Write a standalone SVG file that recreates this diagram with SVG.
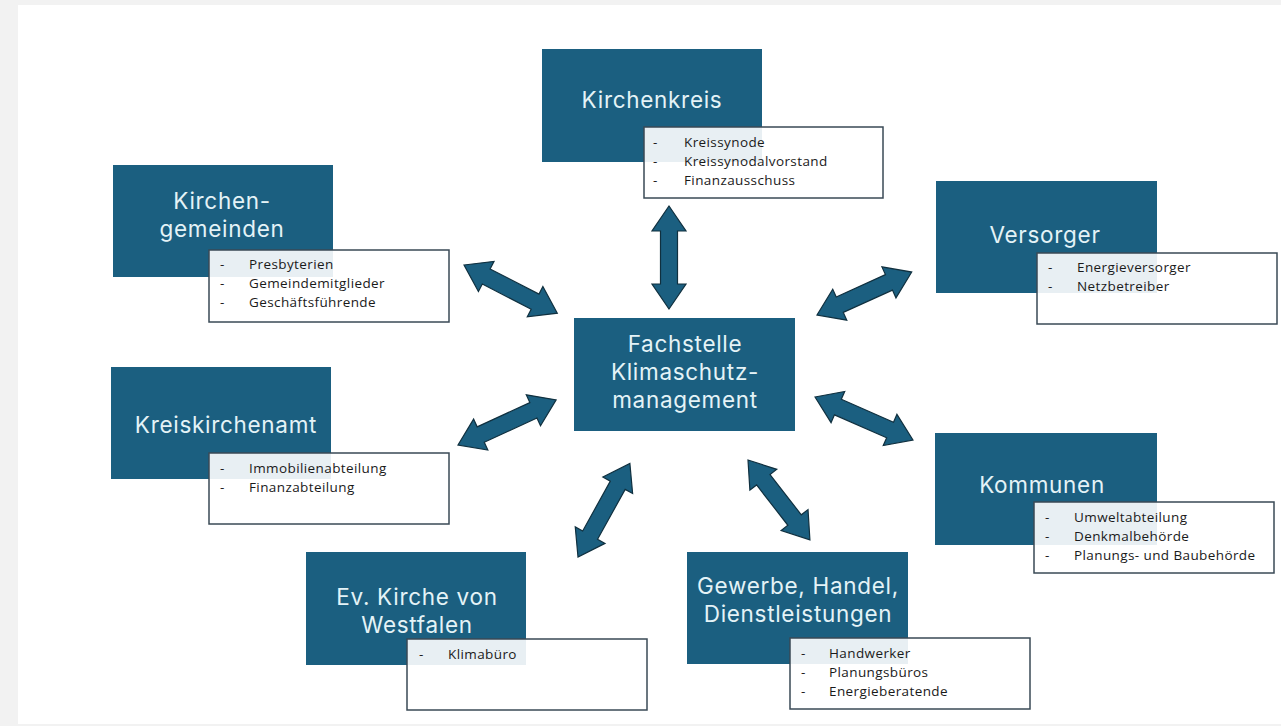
<svg xmlns="http://www.w3.org/2000/svg" width="1281" height="726" viewBox="0 0 1281 726">
<style>
.bg{fill:#f2f2f2}
.card{fill:#ffffff}
.box{fill:#1b5f80}
.sub{fill:#ffffff;fill-opacity:0.9;stroke:#3a4a56;stroke-width:1.5}
.title{font-family:Inter,"Open Sans","Liberation Sans",sans-serif;font-size:22.5px;fill:#e4f3f7;text-anchor:middle;letter-spacing:0.7px}
.item{font-family:"Open Sans","Liberation Sans",sans-serif;font-size:13.5px;fill:#1a1a1a;letter-spacing:0.4px}
.arrow{fill:#1b5f80;stroke:#10303f;stroke-width:1.2;stroke-linejoin:miter}
</style>
<rect class="bg" x="0" y="0" width="1281" height="726"/>
<rect class="card" x="18" y="5" width="1263" height="719"/>

<g id="connectors">
<path class="arrow" transform="translate(669,206) rotate(90)" d="M0,0 L25,-17 L25,-8.5 L78,-8.5 L78,-17 L103,0 L78,17 L78,8.5 L25,8.5 L25,17 Z"/>
<path class="arrow" transform="translate(464,265) rotate(27.3)" d="M0,0 L25,-17 L25,-8.5 L80,-8.5 L80,-17 L105,0 L80,17 L80,8.5 L25,8.5 L25,17 Z"/>
<path class="arrow" transform="translate(817,315) rotate(-24.4)" d="M0,0 L25,-17 L25,-8.5 L79,-8.5 L79,-17 L104,0 L79,17 L79,8.5 L25,8.5 L25,17 Z"/>
<path class="arrow" transform="translate(458,445) rotate(-24.7)" d="M0,0 L25,-17 L25,-8.5 L83,-8.5 L83,-17 L108,0 L83,17 L83,8.5 L25,8.5 L25,17 Z"/>
<path class="arrow" transform="translate(815,397) rotate(23.7)" d="M0,0 L25,-17 L25,-8.5 L82,-8.5 L82,-17 L107,0 L82,17 L82,8.5 L25,8.5 L25,17 Z"/>
<path class="arrow" transform="translate(578,557) rotate(-61)" d="M0,0 L25,-17 L25,-8.5 L82,-8.5 L82,-17 L107,0 L82,17 L82,8.5 L25,8.5 L25,17 Z"/>
<path class="arrow" transform="translate(748,460) rotate(52.2)" d="M0,0 L25,-17 L25,-8.5 L76,-8.5 L76,-17 L101,0 L76,17 L76,8.5 L25,8.5 L25,17 Z"/>
</g>

<g id="center">
<rect class="box" x="574" y="318" width="221" height="113"/>
<text class="title" x="685" y="352">Fachstelle</text>
<text class="title" x="685" y="380">Klimaschutz-</text>
<text class="title" x="685" y="408">management</text>
</g>

<g id="kirchenkreis">
<rect class="box" x="542" y="49" width="220" height="113"/>
<text class="title" x="652" y="108">Kirchenkreis</text>
<rect class="sub" x="644" y="127" width="239" height="71"/>
<text class="item" x="653" y="147">-</text><text class="item" x="684" y="147">Kreissynode</text>
<text class="item" x="653" y="166">-</text><text class="item" x="684" y="166">Kreissynodalvorstand</text>
<text class="item" x="653" y="185">-</text><text class="item" x="684" y="185">Finanzausschuss</text>
</g>

<g id="kirchengemeinden">
<rect class="box" x="113" y="165" width="220" height="112"/>
<text class="title" x="222" y="209">Kirchen-</text>
<text class="title" x="222" y="237">gemeinden</text>
<rect class="sub" x="209" y="250" width="240" height="72"/>
<text class="item" x="220" y="269">-</text><text class="item" x="249" y="269">Presbyterien</text>
<text class="item" x="220" y="288">-</text><text class="item" x="249" y="288">Gemeindemitglieder</text>
<text class="item" x="220" y="307">-</text><text class="item" x="249" y="307">Geschäftsführende</text>
</g>

<g id="versorger">
<rect class="box" x="936" y="181" width="221" height="112"/>
<text class="title" x="1045" y="243">Versorger</text>
<rect class="sub" x="1037" y="253" width="240" height="71"/>
<text class="item" x="1048" y="272">-</text><text class="item" x="1077" y="272">Energieversorger</text>
<text class="item" x="1048" y="291">-</text><text class="item" x="1077" y="291">Netzbetreiber</text>
</g>

<g id="kreiskirchenamt">
<rect class="box" x="111" y="367" width="220" height="112"/>
<text class="title" x="226" y="433">Kreiskirchenamt</text>
<rect class="sub" x="209" y="453" width="240" height="71"/>
<text class="item" x="220" y="473">-</text><text class="item" x="249" y="473">Immobilienabteilung</text>
<text class="item" x="220" y="492">-</text><text class="item" x="249" y="492">Finanzabteilung</text>
</g>

<g id="kommunen">
<rect class="box" x="935" y="433" width="222" height="112"/>
<text class="title" x="1042" y="493">Kommunen</text>
<rect class="sub" x="1034" y="502" width="240" height="71"/>
<text class="item" x="1045" y="522">-</text><text class="item" x="1074" y="522">Umweltabteilung</text>
<text class="item" x="1045" y="541">-</text><text class="item" x="1074" y="541">Denkmalbehörde</text>
<text class="item" x="1045" y="560">-</text><text class="item" x="1074" y="560">Planungs- und Baubehörde</text>
</g>

<g id="ekvw">
<rect class="box" x="306" y="552" width="220" height="113"/>
<text class="title" x="417" y="605">Ev. Kirche von</text>
<text class="title" x="417" y="633">Westfalen</text>
<rect class="sub" x="407" y="639" width="240" height="71"/>
<text class="item" x="419" y="659">-</text><text class="item" x="448" y="659">Klimabüro</text>
</g>

<g id="gewerbe">
<rect class="box" x="687" y="552" width="221" height="112"/>
<text class="title" x="798" y="594">Gewerbe, Handel,</text>
<text class="title" x="798" y="622">Dienstleistungen</text>
<rect class="sub" x="790" y="638" width="240" height="71"/>
<text class="item" x="801" y="658">-</text><text class="item" x="829" y="658">Handwerker</text>
<text class="item" x="801" y="677">-</text><text class="item" x="829" y="677">Planungsbüros</text>
<text class="item" x="801" y="696">-</text><text class="item" x="829" y="696">Energieberatende</text>
</g>
</svg>
